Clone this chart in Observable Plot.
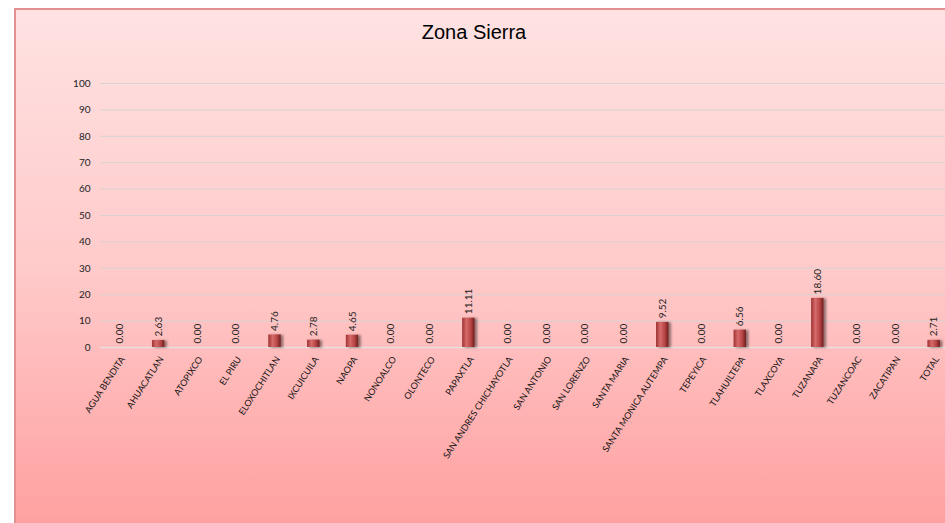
<!DOCTYPE html>
<html>
<head>
<meta charset="utf-8">
<script src="https://cdn.jsdelivr.net/npm/d3@7"></script>
<script src="https://cdn.jsdelivr.net/npm/@observablehq/plot@0.6"></script>
<style>
  html, body { margin: 0; padding: 0; background: #fff; }
  #wrap { position: relative; width: 945px; height: 523px; overflow: hidden; }
  #frame { position: absolute; left: 14px; top: 8px; right: -4px; bottom: -4px;
    background: linear-gradient(to bottom, #ffe2e2 0%, #ffcaca 50%, #ffa0a0 100%);
    border-left: 2px solid #e39090; border-top: 2px solid #e39090; }
  #chart { position: absolute; left: 0; top: 0; width: 953px; height: 523px; }
  #chart svg { display: block; background: transparent; overflow: hidden; max-width: none !important; width: 953px !important; height: 523px !important; }
</style>
</head>
<body>
<div id="wrap"><div id="frame"></div><div id="chart"></div></div>
<script>
const categories = ["AGUA BENDITA","AHUACATLAN","ATOPIXCO","EL PIRU","ELOXOCHITLAN","IXCUICUILA","NAOPA","NONOALCO","OLONTECO","PAPAXTLA","SAN ANDRES CHICHAYOTLA","SAN ANTONIO","SAN LORENZO","SANTA MARIA","SANTA MONICA AUTEMPA","TEPEYICA","TLAHUILTEPA","TLAXCOYA","TUZANAPA","TUZANCOAC","ZACATIPAN","TOTAL"];
const values = [0,2.63,0,0,4.76,2.78,4.65,0,0,11.11,0,0,0,0,9.52,0,6.56,0,18.60,0,0,2.71];
const yTicks = [0,10,20,30,40,50,60,70,80,90,100];
const title = "Zona Sierra";

const data = categories.map((c, i) => ({cat: c, v: values[i]}));

const plot = Plot.plot({
  width: 953,
  height: 523,
  marginLeft: 100,
  marginRight: 0,
  marginTop: 83,
  marginBottom: 176,
  style: {background: "transparent", fontFamily: "Lato, 'Open Sans', sans-serif"},
  x: {domain: categories, paddingInner: 0.68, paddingOuter: 0.34, round: false, label: null},
  y: {domain: [0, 100], label: null},
  marks: [
    Plot.gridY(yTicks, {stroke: "#d9d2d2", strokeOpacity: 1, strokeWidth: 1}),
    Plot.ruleY([0], {stroke: "#e9dede", strokeWidth: 1.5}),
    Plot.axisY(yTicks, {tickSize: 0, tickPadding: 10, fontSize: 10, fill: "#222", tickFormat: d => d}),
    Plot.axisX({tickSize: 0, tickRotate: -57, tickPadding: 10, fontSize: 9, fill: "#111", dx: 3}),
    Plot.barY(data, {x: "cat", y: "v", fill: "url(#barGrad)", className: "bars"}),
    Plot.text(data, {x: "cat", y: "v", text: d => d.v.toFixed(2), rotate: -90, textAnchor: "start", dy: -4, fontSize: 10, fill: "#222"}),
    Plot.text([title], {frameAnchor: "top", dy: -59, dx: -53, fontSize: 20, fill: "#000", fontFamily: "'Liberation Sans', Arial, sans-serif"})
  ]
});

const svg = d3.select(plot);
const defs = svg.insert("defs", ":first-child");
const g = defs.append("linearGradient").attr("id", "barGrad").attr("x1", "0").attr("x2", "1").attr("y1", "0").attr("y2", "0");
g.append("stop").attr("offset", "0%").attr("stop-color", "#9e3333");
g.append("stop").attr("offset", "35%").attr("stop-color", "#d76a6a");
g.append("stop").attr("offset", "70%").attr("stop-color", "#b84545");
g.append("stop").attr("offset", "100%").attr("stop-color", "#6e1d1d");
const f = defs.append("filter").attr("id", "shadow").attr("x", "-50%").attr("y", "-50%").attr("width", "200%").attr("height", "200%");
f.append("feDropShadow").attr("dx", 2.5).attr("dy", 0.5).attr("stdDeviation", 1.2).attr("flood-color", "#000").attr("flood-opacity", 0.45);
svg.selectAll(".bars rect").attr("filter", "url(#shadow)");

document.getElementById("chart").appendChild(plot);
</script>
</body>
</html>
